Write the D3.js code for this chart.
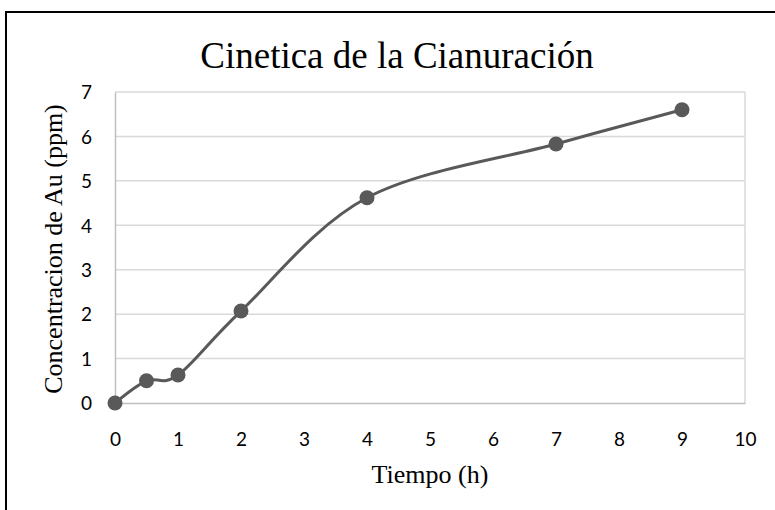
<!DOCTYPE html>
<html lang="es">
  <head>
    <meta charset="UTF-8" />
    <title>Cinetica de la Cianuración</title>
    <style>
      body {
        margin: 0;
        background: #fff;
      }
      .grid line {
        stroke: #d9d9d9;
        stroke-width: 1.5;
      }
      .tick text {
        font-family: Lato, "Open Sans", sans-serif;
        font-size: 19px;
        fill: #000;
      }
      .serif {
        font-family: "Liberation Serif", "DejaVu Serif", serif;
        fill: #000;
      }
    </style>
  </head>
  <body>
    <div id="container"></div>
  </body>
  <script src="https://cdnjs.cloudflare.com/ajax/libs/d3/7.1.1/d3.min.js"></script>
  <script>
    // datos
    let tiempo = [0, 0.5, 1, 2, 4, 7, 9];
    let concentracion = [0, 0.5, 0.63, 2.07, 4.62, 5.83, 6.6];
    let x_ticks = [0, 1, 2, 3, 4, 5, 6, 7, 8, 9, 10];
    let y_ticks = [0, 1, 2, 3, 4, 5, 6, 7];

    let width = 775,
      height = 510,
      margin = { left: 115, top: 92, right: 30, bottom: 107 },
      g_width = 745 - margin.left,
      g_height = 403 - margin.top;

    let scale_x = d3.scaleLinear().domain([0, 10]).range([0, g_width]);
    let scale_y = d3.scaleLinear().domain([0, 7]).range([g_height, 0]);

    let svg = d3
      .select("#container")
      .append("svg")
      .attr("width", width)
      .attr("height", height);

    // marco exterior
    svg
      .append("rect")
      .attr("x", 6)
      .attr("y", 12)
      .attr("width", 900)
      .attr("height", 700)
      .attr("fill", "none")
      .attr("stroke", "#000")
      .attr("stroke-width", 2);

    let g = svg
      .append("g")
      .attr("transform", `translate(${margin.left},${margin.top})`);

    // lineas de cuadricula horizontales
    g.append("g")
      .attr("class", "grid")
      .selectAll("line")
      .data(y_ticks.filter((d) => d > 0))
      .join("line")
      .attr("x1", 0)
      .attr("x2", g_width)
      .attr("y1", (d) => scale_y(d))
      .attr("y2", (d) => scale_y(d));

    // borde derecho del area
    g.append("line")
      .attr("x1", scale_x(10))
      .attr("x2", scale_x(10))
      .attr("y1", scale_y(7))
      .attr("y2", scale_y(0))
      .attr("stroke", "#d9d9d9")
      .attr("stroke-width", 1.5);

    let x_axis = d3
      .axisBottom(scale_x)
      .tickValues(x_ticks)
      .tickFormat(d3.format("d"))
      .tickSize(0)
      .tickPadding(30);
    let y_axis = d3
      .axisLeft(scale_y)
      .tickValues(y_ticks)
      .tickFormat(d3.format("d"))
      .tickSize(0)
      .tickPadding(23);

    let gx = g
      .append("g")
      .attr("transform", `translate(0,${g_height})`)
      .call(x_axis);
    gx.select(".domain").attr("stroke", "#bfbfbf").attr("stroke-width", 1.5);

    let gy = g.append("g").call(y_axis);
    gy.select(".domain").attr("stroke", "#bfbfbf").attr("stroke-width", 1.5);
    gy.selectAll(".tick text").attr("dy", "0.36em");

    // linea suavizada
    let points = tiempo.map((t, i) => [t, concentracion[i]]);
    let line = d3
      .line()
      .x((d) => scale_x(d[0]))
      .y((d) => scale_y(d[1]))
      .curve(d3.curveCardinal.tension(0));

    g.append("path")
      .attr("d", line(points))
      .attr("fill", "none")
      .attr("stroke", "#595959")
      .attr("stroke-width", 3);

    g.append("g")
      .selectAll("circle")
      .data(points)
      .join("circle")
      .attr("cx", (d) => scale_x(d[0]))
      .attr("cy", (d) => scale_y(d[1]))
      .attr("r", 7.5)
      .attr("fill", "#595959");

    // titulos
    svg
      .append("text")
      .attr("class", "serif")
      .attr("x", 397)
      .attr("y", 68)
      .attr("text-anchor", "middle")
      .style("font-size", "37px")
      .text("Cinetica de la Cianuración");

    svg
      .append("text")
      .attr("class", "serif")
      .attr("x", 430)
      .attr("y", 483)
      .attr("text-anchor", "middle")
      .style("font-size", "26px")
      .text("Tiempo (h)");

    svg
      .append("text")
      .attr("class", "serif")
      .attr("transform", "translate(62,249) rotate(-90)")
      .attr("text-anchor", "middle")
      .style("font-size", "26px")
      .text("Concentracion de Au (ppm)");
  </script>
</html>
